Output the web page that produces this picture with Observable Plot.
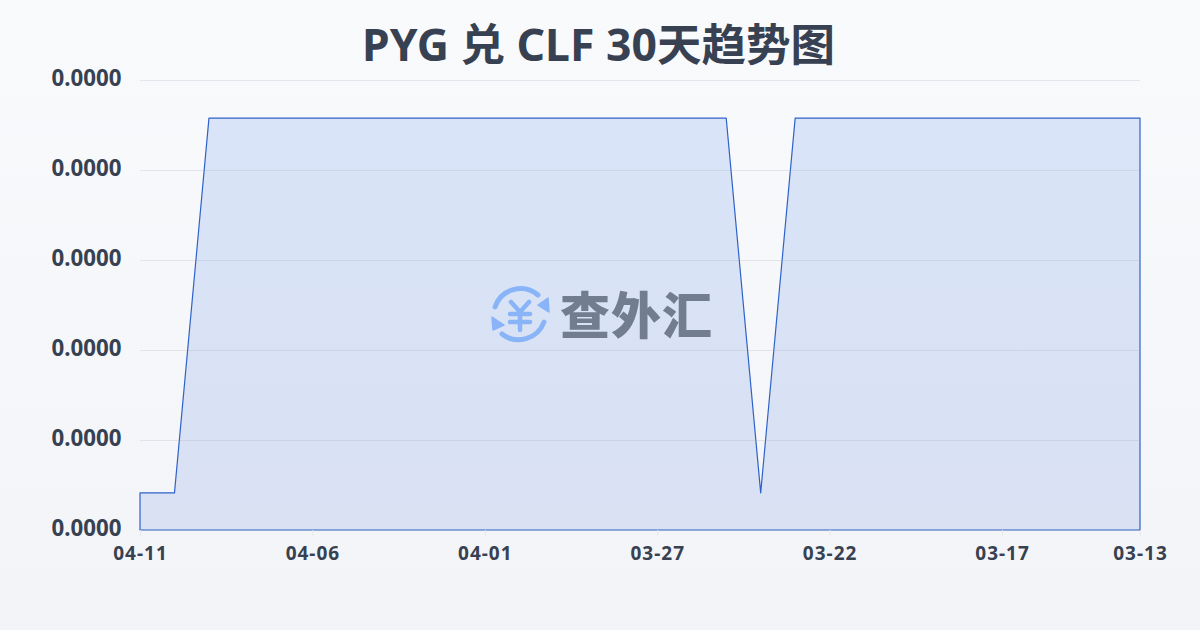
<!DOCTYPE html>
<html><head><meta charset="utf-8">
<script src="https://cdn.jsdelivr.net/npm/d3@7"></script>
<script src="https://cdn.jsdelivr.net/npm/@observablehq/plot@0.6"></script>
<style>
html,body{margin:0;padding:0}
body{width:1200px;height:630px;overflow:hidden;position:relative;background:linear-gradient(180deg,#f9fafc 0%,#f2f4f7 100%);font-family:"Noto Sans","Noto Sans CJK SC",sans-serif}
#title{margin:0;padding-top:16px;height:60px;box-sizing:border-box;line-height:56px;text-align:center;font-size:44.5px;font-weight:700;color:#374151;font-family:"Noto Sans","Noto Sans CJK SC",sans-serif;margin-left:-3px;white-space:nowrap}
#chart svg{display:block;background:transparent}
#chart g[aria-label="x-axis tick label"]{letter-spacing:1px}
#mark{position:absolute;left:489px;top:284px;width:230px;height:62px;display:flex;align-items:center;pointer-events:none}
#mark span{font:900 50px "Noto Sans CJK SC",sans-serif;color:#737d90;margin-left:9px;line-height:62px;letter-spacing:1px;margin-top:-6px}
</style></head><body>
<h1 id="title">PYG 兑 CLF 30天趋势图</h1>
<div id="chart"></div>
<div id="mark">
<svg width="62" height="62" viewBox="0 0 62 62" fill="none" stroke="#8ab4f8" stroke-width="5" stroke-linecap="round">
<path d="M6 23 A27 27 0 0 1 49 11"/><path d="M55 38 A27 27 0 0 1 13 50"/>
<path d="M59 14 L60 28 L49 21 Z" fill="#8ab4f8" stroke="#8ab4f8" stroke-width="1.5" stroke-linejoin="round"/><path d="M3 33 L4 46 L15 41 Z" fill="#8ab4f8" stroke="#8ab4f8" stroke-width="1.5" stroke-linejoin="round"/>
<path d="M22 18 L31 28 L40 18 M21 30 H41 M21 38 H41 M31 28 V46" stroke-width="4.5"/>
</svg>
<span>查外汇</span></div>
<script>
const dates = ["04-11","04-10","04-09","04-08","04-07","04-06","04-05","04-04","04-03","04-02","04-01","03-31","03-30","03-29","03-28","03-27","03-26","03-25","03-24","03-23","03-22","03-21","03-20","03-19","03-18","03-17","03-16","03-15","03-14","03-13"];
const low = 0.00000103, high = 0.00001144;
const rates = [low,low,high,high,high,high,high,high,high,high,high,high,high,high,high,high,high,high,low,high,high,high,high,high,high,high,high,high,high,high];
const xTicks = ["04-11","04-06","04-01","03-27","03-22","03-17","03-13"];
const yTicks = [0,0.0000025,0.000005,0.0000075,0.00001,0.0000125];
const rows = dates.map((d,i)=>({date:d,rate:rates[i]}));
const defs = () => {
  const s = d3.create("svg:defs");
  const g = s.append("linearGradient").attr("id","fillG").attr("x1",0).attr("y1",0).attr("x2",0).attr("y2",1);
  g.append("stop").attr("offset","0%").attr("stop-color","#d9e4f8");
  g.append("stop").attr("offset","100%").attr("stop-color","#d9e1f3");
  return s.node();
};
const plot = Plot.plot({
  width:1200,height:570,marginTop:20,marginBottom:100,marginLeft:140,marginRight:60,
  style:{background:"transparent",overflow:"visible"},
  x:{type:"point",domain:dates,padding:0,round:false,axis:null},
  y:{domain:[0,0.0000125],axis:null},
  marks:[
    defs,
    Plot.areaY(rows,{x:"date",y:"rate",fill:"url(#fillG)",stroke:"#2f62c9",strokeWidth:1.2,curve:"linear"}),
    Plot.gridY(yTicks,{stroke:"#94a3b8",strokeOpacity:0.22,strokeWidth:1}),
    Plot.axisY(yTicks,{tickSize:0,tickPadding:0,label:null,tickFormat:d=>d.toFixed(4),fontSize:22.3,fontWeight:700,fill:"#374151",dx:-19,dy:-2,textAnchor:"end"}),
    Plot.axisX(xTicks,{tickSize:6,stroke:"#e5e7eb",label:null,fontSize:19,fontWeight:700,fill:"#374151",tickPadding:10})
  ]
});
document.getElementById("chart").append(plot);
</script>
</body></html>
